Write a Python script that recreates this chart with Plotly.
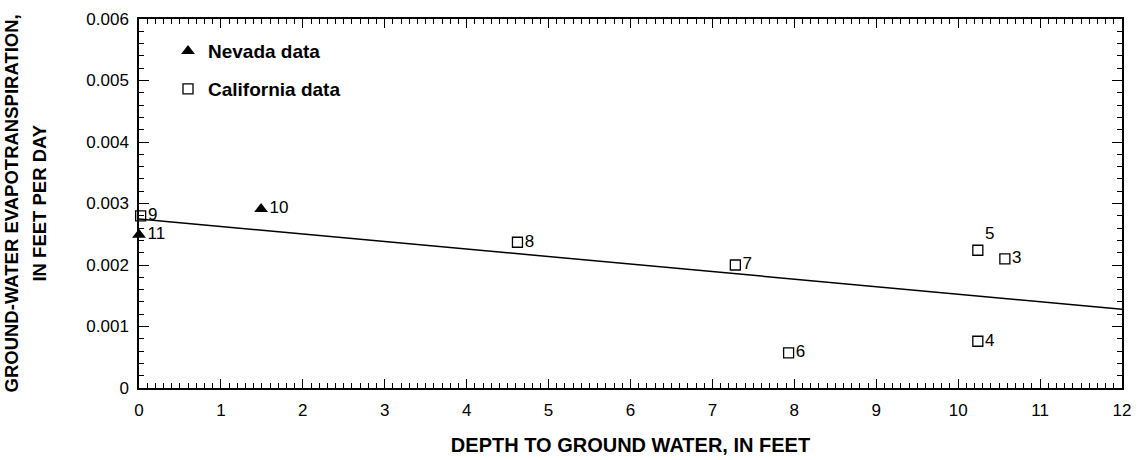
import plotly.graph_objects as go

# Data
nev_x = [1.49, 0.0]
nev_y = [0.00291, 0.00249]
nev_lbl = ["10", "11"]

cal_x = [0.02, 4.62, 7.28, 7.93, 10.24, 10.57, 10.24]
cal_y = [0.00280, 0.00237, 0.00200, 0.00057, 0.00224, 0.00210, 0.00076]
cal_lbl = ["9", "8", "7", "6", "5", "3", "4"]
cal_pos = ["middle right", "middle right", "middle right", "middle right", "top right", "middle right", "middle right"]

fit_x = [0, 12]
fit_y = [0.00275, 0.00128]

x_range = [0, 12]
y_range = [0, 0.006]

FONT = "Liberation Sans, Arial, sans-serif"

fig = go.Figure()
fig.add_trace(go.Scatter(x=fit_x, y=fit_y, mode="lines", line=dict(color="black", width=1.5),
                         showlegend=False, hoverinfo="skip", cliponaxis=False))
fig.add_trace(go.Scatter(x=cal_x, y=cal_y, mode="markers+text", text=cal_lbl, textposition=cal_pos,
                         name="California data", legend="legend2",
                         marker=dict(symbol="square-open", size=10, color="black", line=dict(width=1.3)),
                         textfont=dict(size=17, color="black", family=FONT), cliponaxis=False))
fig.add_trace(go.Scatter(x=nev_x, y=nev_y, mode="markers+text", text=nev_lbl,
                         textposition=["middle right", "middle right"],
                         name="Nevada data", legend="legend",
                         marker=dict(symbol="triangle-up", size=12, color="black"),
                         textfont=dict(size=17, color="black", family=FONT), cliponaxis=False))
# invisible trace to anchor the mirrored (top/right) axes that carry the minor ticks
fig.add_trace(go.Scatter(x=fit_x, y=fit_y, xaxis="x2", yaxis="y2", mode="lines",
                         line=dict(width=0), opacity=0, showlegend=False, hoverinfo="skip"))

legfont = dict(size=19, family=FONT, weight="bold", color="black")
tick_common = dict(showgrid=False, zeroline=False, showline=True, linecolor="black", linewidth=1.5,
                   ticks="inside", tickwidth=1.2, tickcolor="black", automargin=False)
xminor = dict(dtick=0.1, ticks="inside", ticklen=5, tickwidth=1, tickcolor="black", showgrid=False)
yminor = dict(dtick=0.0002, ticks="inside", ticklen=5, tickwidth=1, tickcolor="black", showgrid=False)

fig.update_layout(
    width=1138, height=460,
    margin=dict(l=139, r=16, t=19, b=72, autoexpand=False),
    plot_bgcolor="white", paper_bgcolor="white",
    font=dict(family=FONT, color="black", size=17),
    legend=dict(x=0.0295, y=0.913, xanchor="left", yanchor="middle", bgcolor="rgba(0,0,0,0)",
                font=legfont, itemwidth=30),
    legend2=dict(x=0.0295, y=0.81, xanchor="left", yanchor="middle", bgcolor="rgba(0,0,0,0)",
                 font=legfont, itemwidth=30),
    xaxis=dict(range=x_range, dtick=1, tick0=0, ticklen=9, minor=xminor,
               ticklabelstandoff=6,
               title=dict(text="<b>DEPTH TO GROUND WATER, IN FEET</b>", font=dict(size=20), standoff=19),
               tickfont=dict(size=17), **tick_common),
    yaxis=dict(range=y_range, dtick=0.001, tick0=0, ticklen=10, minor=yminor,
               tickformat=".3~f", ticklabelstandoff=5,
               tickfont=dict(size=17), **tick_common),
    xaxis2=dict(range=x_range, dtick=1, tick0=0, ticklen=9, minor=xminor, overlaying="x",
                side="top", anchor="y2", showticklabels=False, **tick_common),
    yaxis2=dict(range=y_range, dtick=0.001, tick0=0, ticklen=10, minor=yminor, overlaying="y",
                side="right", anchor="x2", showticklabels=False, **tick_common),
    annotations=[
        dict(text="<b>GROUND-WATER EVAPOTRANSPIRATION,</b>", xref="paper", yref="paper",
             x=-0.1292, y=0.5, xanchor="center", yanchor="middle", textangle=-90,
             showarrow=False, font=dict(size=18.5, family=FONT, color="black")),
        dict(text="<b>IN FEET PER DAY</b>", xref="paper", yref="paper",
             x=-0.1017, y=0.5, xanchor="center", yanchor="middle", textangle=-90,
             showarrow=False, font=dict(size=18.5, family=FONT, color="black")),
    ],
)
fig.write_html("out.html")
